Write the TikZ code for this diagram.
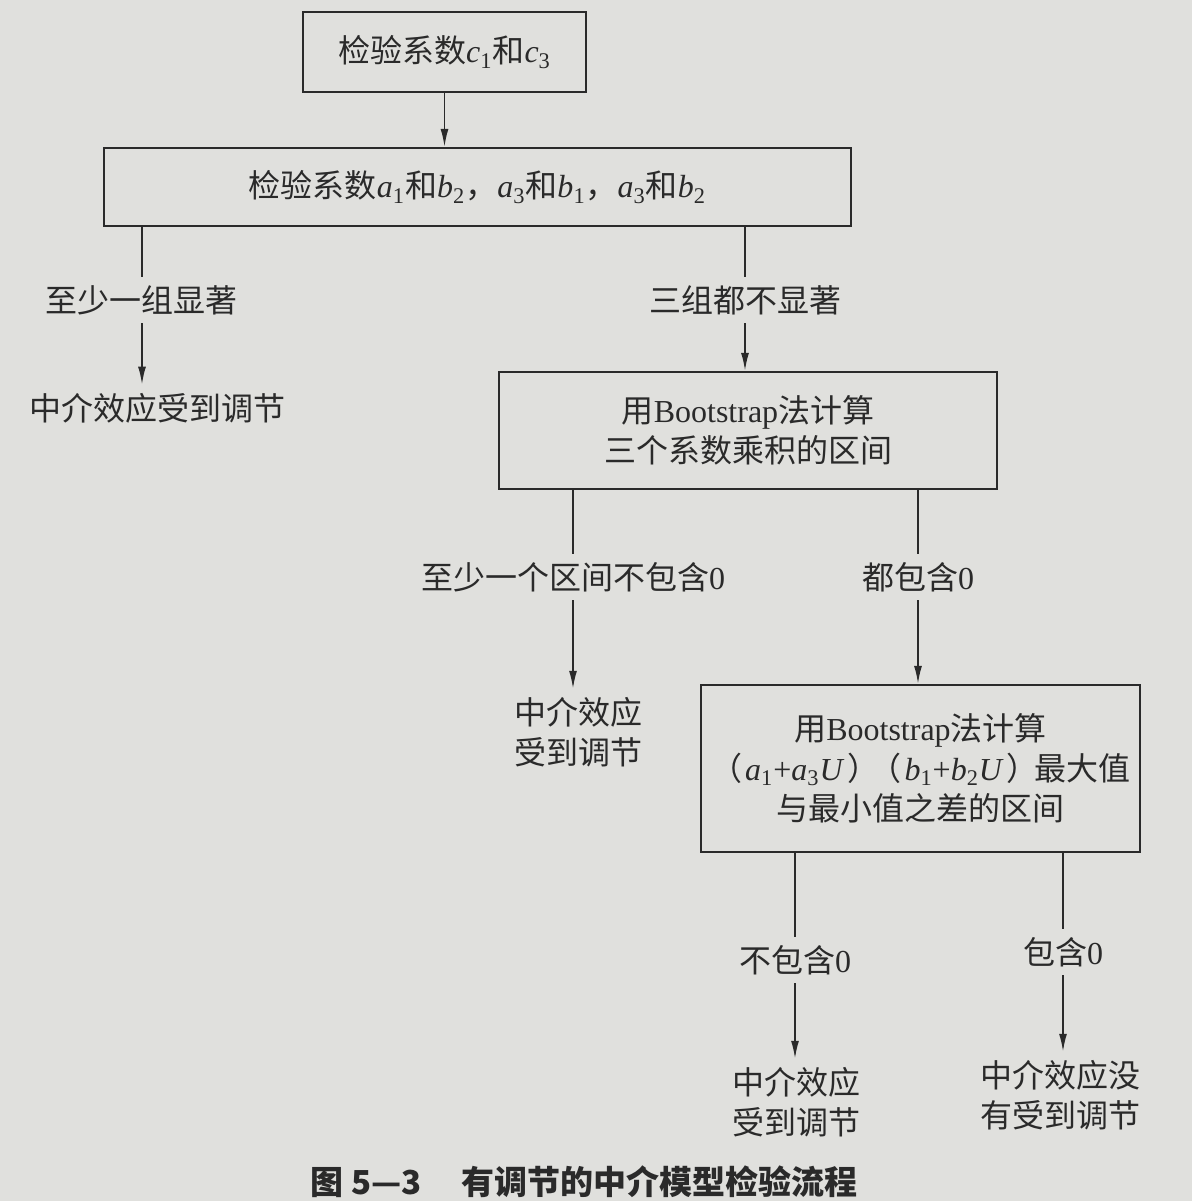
\documentclass[tikz,border=0pt]{standalone}
\usepackage{fontspec}
\setmainfont{Liberation Serif}
\newfontfamily\cjk{Noto Sans CJK SC}
\usetikzlibrary{arrows.meta}
\newcommand\zh[1]{{\cjk #1}}
\newcommand\sv[2]{\textit{#1}\textsubscript{#2}}
\definecolor{paper}{RGB}{224,224,221}
\definecolor{ink}{RGB}{42,42,42}
\begin{document}
\begin{tikzpicture}[x=0.5pt,y=-0.5pt,
  font=\fontsize{16}{20}\selectfont, color=ink,
  box/.style={draw=ink, line width=1.1pt, inner sep=0pt, align=center},
  lbl/.style={inner xsep=0pt, inner ysep=4pt},
  tgt/.style={inner xsep=0pt, inner ysep=4pt, align=center},
  conn/.style={draw=ink, line width=0.9pt},
  arr/.style={conn, -{Latex[length=9pt,width=4pt]}}]
\path[use as bounding box, fill=paper] (0,0) rectangle (1192,1201);

\node[box, minimum width=141.5pt, minimum height=40pt] (b1) at (444.5,52)
  {\zh{检验系数}\textit{c}\textsubscript{1}\zh{和}\textit{c}\textsubscript{3}};
\node[box, minimum width=373.5pt, minimum height=39pt] (b2) at (477.5,187)
  {\zh{检验系数}\sv{a}{1}\zh{和}\sv{b}{2}\zh{，}\sv{a}{3}\zh{和}\sv{b}{1}\zh{，}\sv{a}{3}\zh{和}\sv{b}{2}};
\node[box, minimum width=249pt, minimum height=58.5pt] (b3) at (748,430.5)
  {\zh{用}Bootstrap\zh{法计算}\\\zh{三个系数乘积的区间}};
\node[box, minimum width=219.5pt, minimum height=83.5pt] (b4) at (920.5,768.5)
  {\zh{用}Bootstrap\zh{法计算}\\
   \zh{（}\kern1.5pt\sv{a}{1}+\sv{a}{3}\textit{U}\kern1.5pt\zh{）}\kern-5pt\zh{（}\kern1.5pt\sv{b}{1}+\sv{b}{2}\textit{U}\kern1.5pt\zh{）}\kern-2pt\zh{最大值}\\
   \zh{与最小值之差的区间}};

\node[lbl] (l1) at (142,300) {\zh{至少一组显著}};
\node[tgt] (t1) at (158,408) {\zh{中介效应受到调节}};
\node[lbl] (l2) at (745,300) {\zh{三组都不显著}};
\node[lbl] (l3) at (573,577) {\zh{至少一个区间不包含}0};
\node[tgt] (t3) at (578,732) {\zh{中介效应}\\\zh{受到调节}};
\node[lbl] (l4) at (918,577) {\zh{都包含}0};
\node[lbl] (l5) at (795,960) {\zh{不包含}0};
\node[tgt] (t5) at (796,1102) {\zh{中介效应}\\\zh{受到调节}};
\node[lbl] (l6) at (1063,952) {\zh{包含}0};
\node[tgt] (t6) at (1060,1095) {\zh{中介效应没}\\\zh{有受到调节}};

\node[inner sep=0pt] (cap) at (584,1182)
  {\cjk\bfseries\fontsize{16.5}{20}\selectfont 图 5—3\hspace{1.2em}有调节的中介模型检验流程};

\draw[arr] (b1) -- (b2.north -| b1);
\draw[conn] (b2.south -| l1.north) -- (l1.north);
\draw[arr] (l1.south) -- (t1.north -| l1.south);
\draw[conn] (b2.south -| l2.north) -- (l2.north);
\draw[arr] (l2.south) -- (b3.north -| l2.south);
\draw[conn] (b3.south -| l3.north) -- (l3.north);
\draw[arr] (l3.south) -- (t3.north -| l3.south);
\draw[conn] (b3.south -| l4.north) -- (l4.north);
\draw[arr] (l4.south) -- (b4.north -| l4.south);
\draw[conn] (b4.south -| l5.north) -- (l5.north);
\draw[arr] (l5.south) -- (t5.north -| l5.south);
\draw[conn] (b4.south -| l6.north) -- (l6.north);
\draw[arr] (l6.south) -- (t6.north -| l6.south);
\end{tikzpicture}
\end{document}
